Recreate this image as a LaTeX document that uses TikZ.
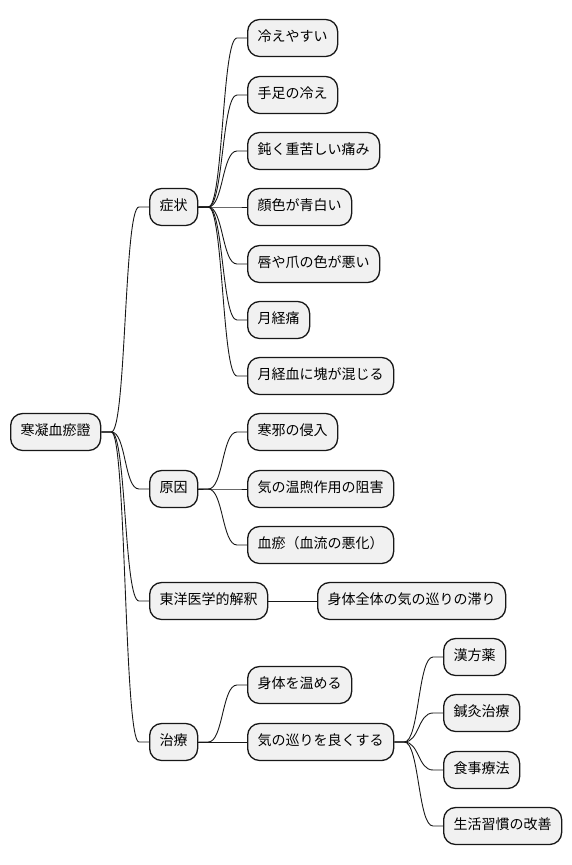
\documentclass[tikz,border=0pt]{standalone}
\usepackage{fontspec}
\setmainfont{Noto Sans CJK JP}
\usetikzlibrary{calc}
\definecolor{boxfill}{HTML}{F1F1F1}
\definecolor{boxline}{HTML}{181818}
\tikzset{
  mmbox/.style={draw=boxline, fill=boxfill, line width=1.3pt, rounded corners=12pt,
    anchor=west, font=\fontsize{14pt}{16pt}\selectfont, inner xsep=10pt, inner ysep=0pt,
    minimum height=37pt, text height=0.88em, text depth=0.12em},
  mmline/.style={draw=boxline, line width=0.9pt}
}
\newcommand\mmconn[2]{%
  \draw[mmline] (#1.east) -- ($(#1.east)+(10,0)$)
    .. controls ($(#1.east)+(25,0)$) and ($(#2.west)+(-25,0)$) .. ($(#2.west)+(-10,0)$)
    -- (#2.west);}
\begin{document}
\begin{tikzpicture}[x=1pt,y=-1pt]
\useasboundingbox (0,0) rectangle (572,865);
\node[mmbox] (root) at (10,432) {寒凝血瘀證};
\node[mmbox] (s) at (149,207) {症状};
\node[mmbox] (g) at (149,489) {原因};
\node[mmbox] (t) at (149,601) {東洋医学的解釈};
\node[mmbox] (c) at (149,742) {治療};
\node[mmbox] (s1) at (247,38) {冷えやすい};
\node[mmbox] (s2) at (247,95) {手足の冷え};
\node[mmbox] (s3) at (247,151) {鈍く重苦しい痛み};
\node[mmbox] (s4) at (247,207) {顔色が青白い};
\node[mmbox] (s5) at (247,264) {唇や爪の色が悪い};
\node[mmbox] (s6) at (247,320) {月経痛};
\node[mmbox] (s7) at (247,376) {月経血に塊が混じる};
\node[mmbox] (g1) at (247,432) {寒邪の侵入};
\node[mmbox] (g2) at (247,489) {気の温煦作用の阻害};
\node[mmbox] (g3) at (247,545) {血瘀（血流の悪化）};
\node[mmbox] (t1) at (317,601) {身体全体の気の巡りの滞り};
\node[mmbox] (c1) at (247,685) {身体を温める};
\node[mmbox] (c2) at (247,742) {気の巡りを良くする};
\node[mmbox] (c21) at (443,657) {漢方薬};
\node[mmbox] (c22) at (443,713) {鍼灸治療};
\node[mmbox] (c23) at (443,770) {食事療法};
\node[mmbox] (c24) at (443,826) {生活習慣の改善};
\foreach \ch in {s,g,t,c} {\mmconn{root}{\ch}}
\foreach \ch in {s1,s2,s3,s4,s5,s6,s7} {\mmconn{s}{\ch}}
\foreach \ch in {g1,g2,g3} {\mmconn{g}{\ch}}
\draw[mmline] (t.east) -- (t1.west);
\foreach \ch in {c1,c2} {\mmconn{c}{\ch}}
\foreach \ch in {c21,c22,c23,c24} {\mmconn{c2}{\ch}}
\end{tikzpicture}
\end{document}
